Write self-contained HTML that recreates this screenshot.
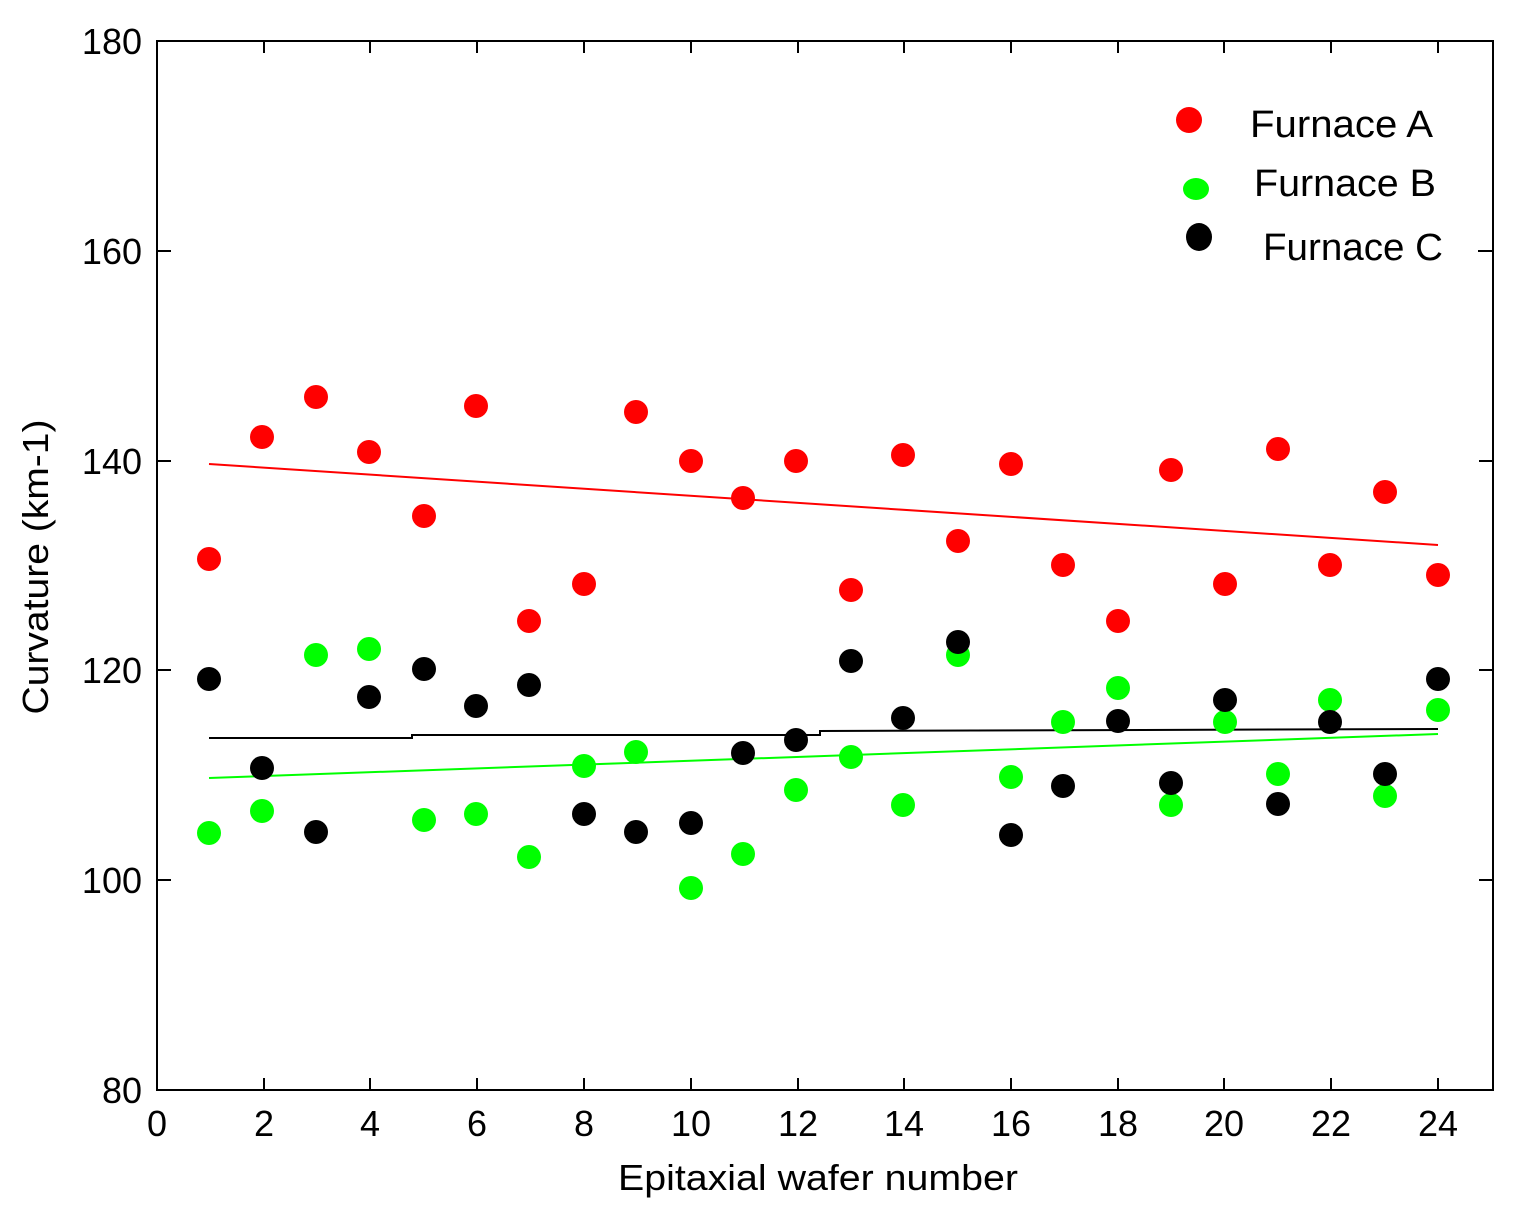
<!DOCTYPE html>
<html><head><style>body{margin:0;background:#fff}svg{display:block}text{font-family:"Liberation Sans",sans-serif;fill:#000}</style></head><body>
<svg width="1520" height="1219" viewBox="0 0 1520 1219" xmlns="http://www.w3.org/2000/svg">
<rect width="1520" height="1219" fill="#fff"/>
<rect x="157" y="41" width="1336" height="1049" fill="none" stroke="#000" stroke-width="2"/>
<g stroke="#000" stroke-width="2" id="ticks">
<path d="M157 251h14M157 461h14M157 670h14M157 880h14M1493 251h-14M1493 461h-14M1493 670h-14M1493 880h-14"/>
<path d="M264 1090v-12M370 1090v-12M477 1090v-12M584 1090v-12M691 1090v-12M798 1090v-12M904 1090v-12M1011 1090v-12M1118 1090v-12M1224 1090v-12M1331 1090v-12M1438 1090v-12"/>
<path d="M264 41v12M370 41v12M477 41v12M584 41v12M691 41v12M798 41v12M904 41v12M1011 41v12M1118 41v12M1224 41v12M1331 41v12M1438 41v12"/>
</g>
<g font-size="36" text-anchor="end">
<text x="142" y="54">180</text><text x="142" y="264">160</text><text x="142" y="474">140</text><text x="142" y="683">120</text><text x="142" y="893">100</text><text x="142" y="1103">80</text>
</g>
<g font-size="36" text-anchor="middle">
<text x="157" y="1136">0</text><text x="264" y="1136">2</text><text x="370" y="1136">4</text><text x="477" y="1136">6</text><text x="584" y="1136">8</text><text x="691" y="1136">10</text><text x="798" y="1136">12</text><text x="904" y="1136">14</text><text x="1011" y="1136">16</text><text x="1118" y="1136">18</text><text x="1224" y="1136">20</text><text x="1331" y="1136">22</text><text x="1438" y="1136">24</text>
<text x="818" y="1190" textLength="400" lengthAdjust="spacingAndGlyphs">Epitaxial wafer number</text>
<text transform="translate(48,567) rotate(-90)" textLength="295" lengthAdjust="spacingAndGlyphs">Curvature (km-1)</text>
</g>
<polyline points="209,464 1438,545" stroke="#f00" stroke-width="2" fill="none"/>
<polyline points="209,738 412,738 412,735 820,735 820,731 1438,729" stroke="#000" stroke-width="2" fill="none"/>
<polyline points="209,778 1438,734" stroke="#0f0" stroke-width="2" fill="none"/>
<g fill="#f00">
<circle cx="209" cy="559" r="12"/><circle cx="262" cy="437" r="12"/><circle cx="316" cy="397" r="12"/><circle cx="369" cy="452" r="12"/><circle cx="424" cy="516" r="12"/><circle cx="476" cy="406" r="12"/><circle cx="529" cy="621" r="12"/><circle cx="584" cy="584" r="12"/><circle cx="636" cy="412" r="12"/><circle cx="691" cy="461" r="12"/><circle cx="743" cy="498" r="12"/><circle cx="796" cy="461" r="12"/><circle cx="851" cy="590" r="12"/><circle cx="903" cy="455" r="12"/><circle cx="958" cy="541" r="12"/><circle cx="1011" cy="464" r="12"/><circle cx="1063" cy="565" r="12"/><circle cx="1118" cy="621" r="12"/><circle cx="1171" cy="470" r="12"/><circle cx="1225" cy="584" r="12"/><circle cx="1278" cy="449" r="12"/><circle cx="1330" cy="565" r="12"/><circle cx="1385" cy="492" r="12"/><circle cx="1438" cy="575" r="12"/>
</g>
<g fill="#0f0">
<circle cx="209" cy="833" r="12"/><circle cx="262" cy="811" r="12"/><circle cx="316" cy="655" r="12"/><circle cx="369" cy="649" r="12"/><circle cx="424" cy="820" r="12"/><circle cx="476" cy="814" r="12"/><circle cx="529" cy="857" r="12"/><circle cx="584" cy="766" r="12"/><circle cx="636" cy="752" r="12"/><circle cx="691" cy="888" r="12"/><circle cx="743" cy="854" r="12"/><circle cx="796" cy="790" r="12"/><circle cx="851" cy="757" r="12"/><circle cx="903" cy="805" r="12"/><circle cx="958" cy="655" r="12"/><circle cx="1011" cy="777" r="12"/><circle cx="1063" cy="722" r="12"/><circle cx="1118" cy="688" r="12"/><circle cx="1171" cy="805" r="12"/><circle cx="1225" cy="722" r="12"/><circle cx="1278" cy="774" r="12"/><circle cx="1330" cy="700" r="12"/><circle cx="1385" cy="796" r="12"/><circle cx="1438" cy="710" r="12"/>
</g>
<g fill="#000">
<circle cx="209" cy="679" r="12"/><circle cx="262" cy="768" r="12"/><circle cx="316" cy="832" r="12"/><circle cx="369" cy="697" r="12"/><circle cx="424" cy="669" r="12"/><circle cx="476" cy="706" r="12"/><circle cx="529" cy="685" r="12"/><circle cx="584" cy="814" r="12"/><circle cx="636" cy="832" r="12"/><circle cx="691" cy="823" r="12"/><circle cx="743" cy="753" r="12"/><circle cx="796" cy="740" r="12"/><circle cx="851" cy="661" r="12"/><circle cx="903" cy="718" r="12"/><circle cx="958" cy="642" r="12"/><circle cx="1011" cy="835" r="12"/><circle cx="1063" cy="786" r="12"/><circle cx="1118" cy="721" r="12"/><circle cx="1171" cy="783" r="12"/><circle cx="1225" cy="700" r="12"/><circle cx="1278" cy="804" r="12"/><circle cx="1330" cy="722" r="12"/><circle cx="1385" cy="774" r="12"/><circle cx="1438" cy="679" r="12"/>
</g>
<rect x="1160" y="95" width="318" height="180" fill="#fff"/>
<circle cx="1189" cy="120" r="13" fill="#f00"/>
<ellipse cx="1196" cy="189" rx="13" ry="11" fill="#0f0"/>
<ellipse cx="1199" cy="237" rx="13" ry="14" fill="#000"/>
<g font-size="38">
<text x="1250" y="137" textLength="183" lengthAdjust="spacingAndGlyphs">Furnace A</text>
<text x="1254" y="196" textLength="182" lengthAdjust="spacingAndGlyphs">Furnace B</text>
<text x="1263" y="260" textLength="180" lengthAdjust="spacingAndGlyphs">Furnace C</text>
</g>
<path d="M1478 251h15" stroke="#000" stroke-width="2"/>
</svg>
</body></html>
